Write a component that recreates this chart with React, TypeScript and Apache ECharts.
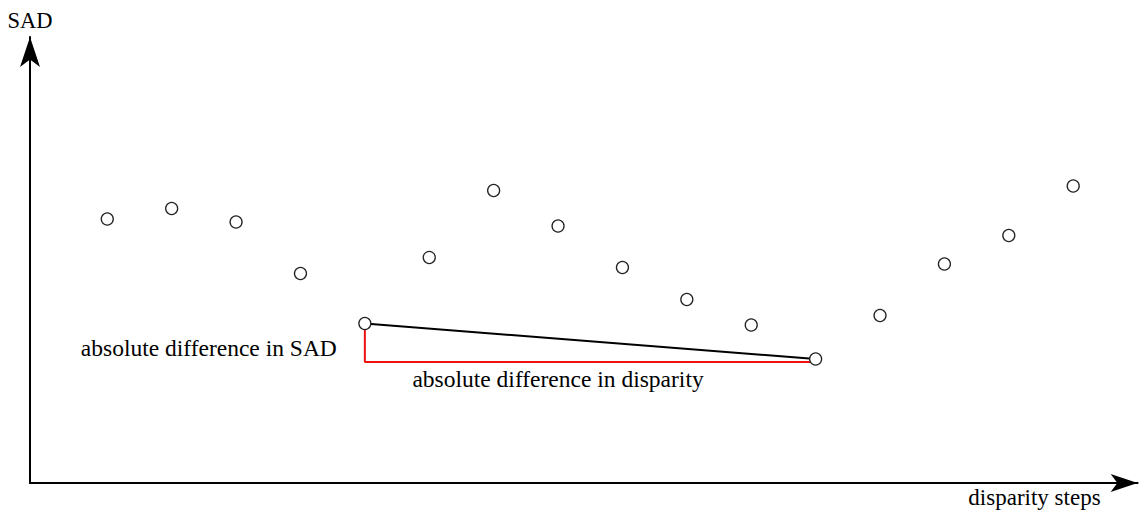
import React, { useEffect, useRef } from "react";
import * as echarts from "echarts";

const steps = [1, 2, 3, 4, 5, 6, 7, 8, 9, 10, 11, 12, 13, 14, 15, 16];
const sadValues = [26.4, 27.45, 26.1, 20.95, 15.95, 22.55, 29.25, 25.7, 21.55, 18.35, 15.8, 12.4, 16.75, 21.9, 24.75, 29.7];
const compareFrom = 5;
const compareTo = 12;
const bracketBase = 12.1;
const xAxisName = "disparity steps";
const yAxisName = "SAD";
const sadLabel = "absolute difference in SAD";
const disparityLabel = "absolute difference in disparity";

const FONT = "'Liberation Serif', 'Times New Roman', serif";

export default function App() {
  const ref = useRef<HTMLDivElement>(null);
  useEffect(() => {
    if (!ref.current) return;
    const chart = echarts.init(ref.current, undefined, { renderer: "svg" });
    const pts = steps.map((s, i) => [s, sadValues[i]]);
    const a = pts[compareFrom - 1];
    const b = pts[compareTo - 1];
    chart.setOption({
      animation: false,
      backgroundColor: "#ffffff",
      grid: { left: 30, right: 1.4, top: 37, bottom: 31, containLabel: false },
      xAxis: {
        type: "value",
        min: -0.2,
        max: 17,
        name: xAxisName,
        nameLocation: "end",
        nameGap: -37,
        nameTextStyle: {
          fontFamily: FONT,
          fontSize: 23,
          color: "#000",
          align: "right",
          verticalAlign: "top",
          padding: [3, 0, 0, 0],
        },
        axisLine: {
          show: true,
          onZero: false,
          symbol: ["none", "arrow"],
          symbolSize: [13.5, 27],
          lineStyle: { color: "#000", width: 2 },
        },
        axisTick: { show: false },
        axisLabel: { show: false },
        splitLine: { show: false },
      },
      yAxis: {
        type: "value",
        min: 0,
        max: 44.6,
        name: yAxisName,
        nameLocation: "end",
        nameGap: 5,
        nameTextStyle: { fontFamily: FONT, fontSize: 22.5, color: "#000" },
        axisLine: {
          show: true,
          onZero: false,
          symbol: ["none", "arrow"],
          symbolSize: [15, 30],
          lineStyle: { color: "#000", width: 2 },
        },
        axisTick: { show: false },
        axisLabel: { show: false },
        splitLine: { show: false },
      },
      series: [
        {
          type: "line",
          data: [a, b],
          symbol: "none",
          lineStyle: { color: "#000", width: 2 },
          z: 2,
          silent: true,
        },
        {
          type: "line",
          data: [a, [a[0], bracketBase], [b[0], bracketBase]],
          symbol: "none",
          lineStyle: { color: "#ee1111", width: 2 },
          z: 2,
          silent: true,
        },
        {
          type: "scatter",
          data: pts,
          symbol: "circle",
          symbolSize: 12,
          itemStyle: { color: "#fff", borderColor: "#222", borderWidth: 1.3, opacity: 1 },
          z: 5,
        },
        {
          type: "scatter",
          symbolSize: 0,
          silent: true,
          itemStyle: { opacity: 1 },
          data: [
            {
              value: [a[0], (a[1] + bracketBase) / 2 - 0.5],
              label: { show: true, position: "left", distance: 28, formatter: sadLabel },
            },
            {
              value: [(a[0] + b[0]) / 2 - 0.5, bracketBase],
              label: { show: true, position: "bottom", distance: 5, formatter: disparityLabel },
            },
          ],
          label: { fontFamily: FONT, fontSize: 23.5, color: "#000", opacity: 1 },
          z: 6,
        },
      ],
    });
    return () => chart.dispose();
  }, []);
  return (
    <div
      ref={ref}
      style={{ position: "fixed", left: 0, top: 0, width: 1139, height: 514 }}
    />
  );
}
